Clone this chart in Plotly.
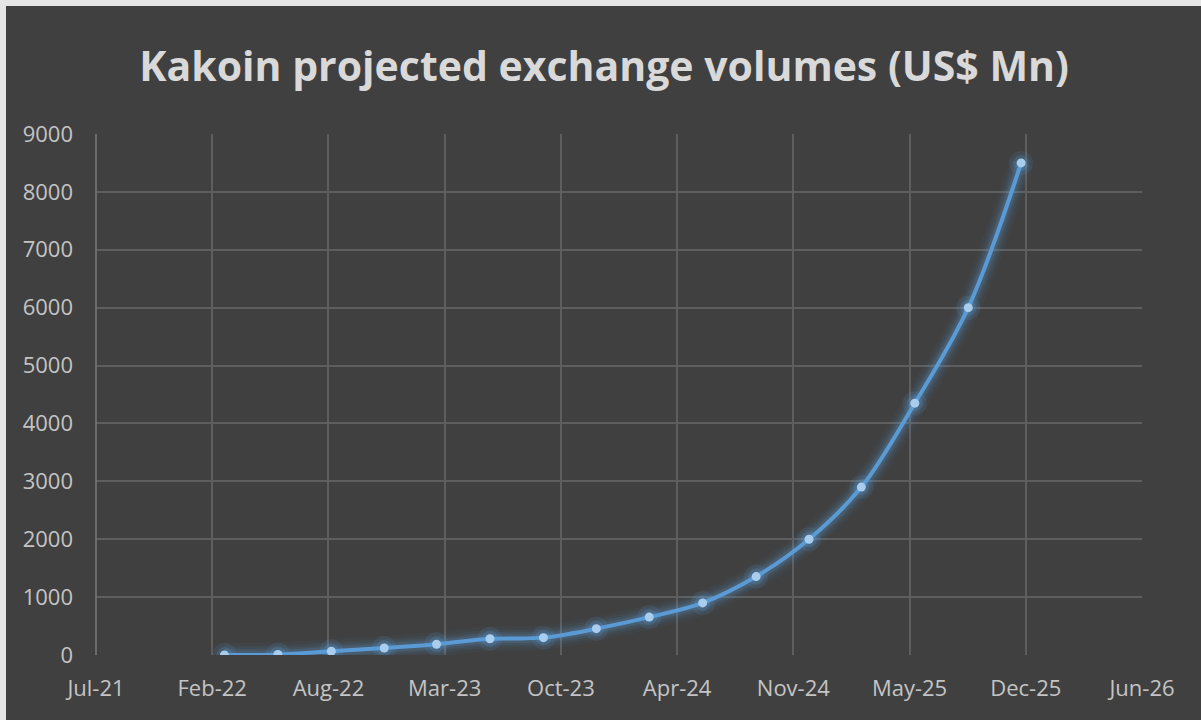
import plotly.graph_objects as go

dates = ["2022-03-01", "2022-06-01", "2022-09-01", "2022-12-01",
         "2023-03-01", "2023-06-01", "2023-09-01", "2023-12-01",
         "2024-03-01", "2024-06-01", "2024-09-01", "2024-12-01",
         "2025-03-01", "2025-06-01", "2025-09-01", "2025-12-01"]
volumes = [0, 10, 65, 120, 185, 280, 300, 455, 655, 900, 1355, 2000, 2900, 4350, 6000, 8500]

title_text = "Kakoin projected exchange volumes (US$ Mn)"
x_start = "2021-07-23"
x_end = "2026-06-27"
day_ms = 86400000

fig = go.Figure()

# glow layers
for w, a in [(24, 0.05), (18, 0.07), (13, 0.10), (9, 0.16)]:
    fig.add_trace(go.Scatter(x=dates, y=volumes, mode="lines",
                             line=dict(color=f"rgba(91,155,213,{a})", width=w, shape="spline", smoothing=1),
                             hoverinfo="skip", showlegend=False))
for s, a in [(24, 0.12), (16, 0.2)]:
    fig.add_trace(go.Scatter(x=dates, y=volumes, mode="markers",
                             marker=dict(size=s, color=f"rgba(91,155,213,{a})", line=dict(width=0)),
                             hoverinfo="skip", showlegend=False))
fig.add_trace(go.Scatter(x=dates, y=volumes, mode="lines+markers",
                         line=dict(color="#5B9BD5", width=4, shape="spline", smoothing=1),
                         marker=dict(size=9, color="#A9CDEE", line=dict(width=0)),
                         showlegend=False))

fig.update_layout(
    width=1201, height=720,
    margin=dict(l=96, r=59, t=134, b=65),
    paper_bgcolor="#404040",
    plot_bgcolor="#404040",
    title=dict(text=title_text, x=0.503, xanchor="center", y=0.908, yanchor="middle",
               font=dict(family="Open Sans", size=41, color="#D9D9D9", weight=700)),
    font=dict(family="Open Sans", color="#C4C4C4", size=22),
    xaxis=dict(type="date", range=[x_start, x_end], tick0=x_start, dtick=200 * day_ms,
               tickformat="%b-%y", showgrid=True, gridcolor="#5E5E5E", gridwidth=1.5,
               showline=False, zeroline=False, ticks="", ticklabelstandoff=18,
               tickfont=dict(size=22, color="#C4C4C4")),
    yaxis=dict(range=[0, 9000], dtick=1000, showgrid=True, gridcolor="#5E5E5E", gridwidth=1.5,
               zeroline=False, showline=False, ticks="", ticklabelstandoff=22,
               tickfont=dict(size=22, color="#C4C4C4")),
    shapes=[
        dict(type="rect", xref="paper", yref="paper", x0=-96/1046, x1=-90/1046, y0=-65/521, y1=(521+134)/521,
             fillcolor="#E6E6E6", line=dict(width=0), layer="below"),
        dict(type="rect", xref="paper", yref="paper", x0=-96/1046, x1=(1046+59)/1046, y0=(521+128)/521, y1=(521+134)/521,
             fillcolor="#E6E6E6", line=dict(width=0), layer="below"),
        dict(type="line", xref="paper", yref="paper", x0=0, x1=0, y0=0, y1=1,
             line=dict(color="#7A7A7A", width=1.5)),
    ],
)

fig.write_html("out.html")
